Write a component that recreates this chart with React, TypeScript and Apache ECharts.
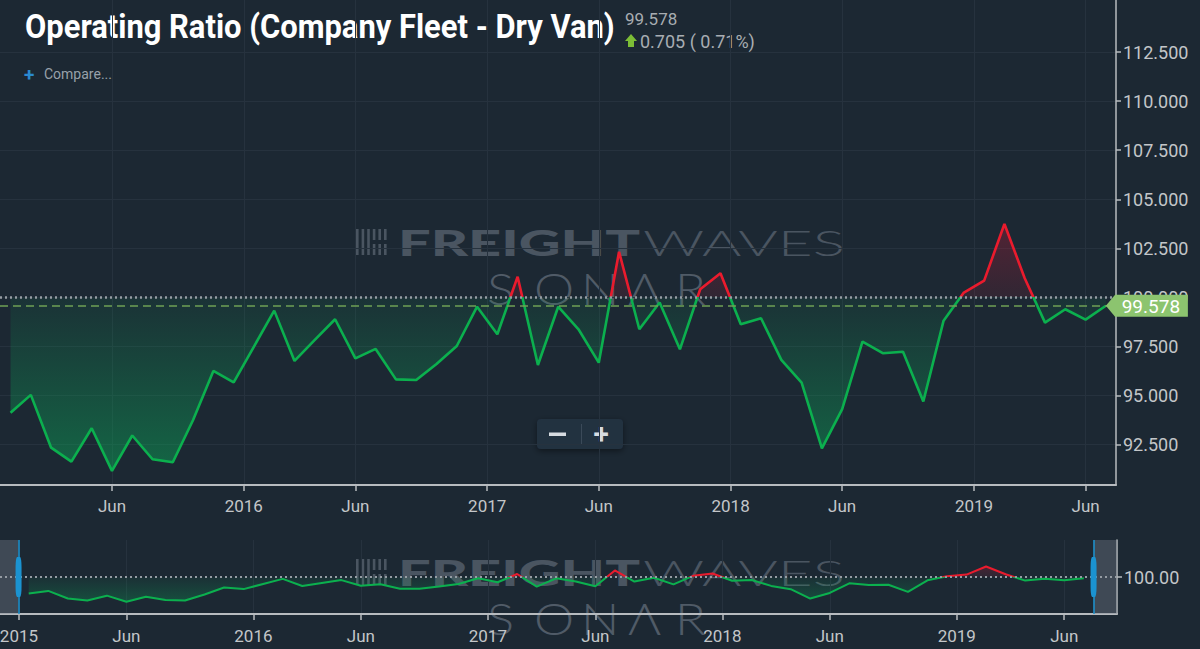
import React, { useEffect, useRef } from 'react'
import * as echarts from 'echarts'

// monthly operating ratio, Jan 2015 .. Jul 2019
const months = [
  '2015-01', '2015-02', '2015-03', '2015-04', '2015-05', '2015-06', '2015-07', '2015-08', '2015-09', '2015-10', '2015-11', '2015-12',
  '2016-01', '2016-02', '2016-03', '2016-04', '2016-05', '2016-06', '2016-07', '2016-08', '2016-09', '2016-10', '2016-11', '2016-12',
  '2017-01', '2017-02', '2017-03', '2017-04', '2017-05', '2017-06', '2017-07', '2017-08', '2017-09', '2017-10', '2017-11', '2017-12',
  '2018-01', '2018-02', '2018-03', '2018-04', '2018-05', '2018-06', '2018-07', '2018-08', '2018-09', '2018-10', '2018-11', '2018-12',
  '2019-01', '2019-02', '2019-03', '2019-04', '2019-05', '2019-06', '2019-07',
]
const ratio = [
  94.13, 95.04, 92.35, 91.64, 93.34, 91.17, 92.97, 91.76, 91.61, 93.76, 96.26, 95.68,
  97.5, 99.33, 96.77, 97.84, 98.89, 96.9, 97.38, 95.83, 95.8, 96.61, 97.53, 99.53,
  98.13, 101.06, 96.56, 99.53, 98.38, 96.68, 102.33, 98.38, 99.74, 97.36, 100.42, 101.23,
  98.64, 98.94, 96.82, 95.66, 92.32, 94.31, 97.75, 97.16, 97.24, 94.7, 98.82, 100.25,
  100.86, 103.74, 100.98, 98.72, 99.4, 98.873, 99.578,
]

// x ticks are in month-index units (points sit mid-month)
const tickPos = [-0.5, 5, 11.5, 17, 23.5, 29, 35.5, 41, 47.5, 53]
const tickText = ['2015', 'Jun', '2016', 'Jun', '2017', 'Jun', '2018', 'Jun', '2019', 'Jun']
const yTicks = [92.5, 95, 97.5, 100, 102.5, 105, 107.5, 110, 112.5]
const navYTicks = [100]
const baseline = 100

const GREEN = '#0bb04e'
const RED = '#ea1b2d'
const AXIS = '#b7bbbf'
const LABEL = '#c3c6c9'
const GRID = '#26323e'
const WM = '#4a5561'

function fitScale(text: string, font: string, width: number) {
  const ctx = document.createElement('canvas').getContext('2d')
  if (!ctx) return 1
  ctx.font = font
  const w = ctx.measureText(text).width
  return w > 0 ? width / w : 1
}

function tickLabel(v: number) {
  const i = tickPos.findIndex((p) => Math.abs(p - v) < 1e-6)
  return i >= 0 ? tickText[i] : ''
}

function watermark(dy: number) {
  const fFont = '900 36px Lato'
  const wFont = '300 36px Lato'
  const sFont = '300 43px Lato'
  const bars = [0, 1, 2, 3, 4, 5].map((k) => ({
    type: 'rect',
    shape: { x: 356 + k * 5.6, y: 229 + dy, width: 2.6, height: k < 3 ? 26 : 11 },
    style: { fill: WM },
  }))
  const bars2 = [3, 4, 5].map((k) => ({
    type: 'rect',
    shape: { x: 356 + k * 5.6, y: 244 + dy, width: 2.6, height: 11 },
    style: { fill: WM },
  }))
  const sonar = ['S', 'O', 'N', 'Λ', 'R'].map((ch, k) => ({
    type: 'text',
    x: 487 + k * 47,
    y: 289 + dy,
    scaleX: 1.18,
    style: { text: ch, font: sFont, fill: '#505b67', verticalAlign: 'middle' },
  }))
  return [
    ...bars,
    ...bars2,
    {
      type: 'text',
      x: 398,
      y: 242 + dy,
      scaleX: fitScale('FREIGHT', fFont, 242),
      style: { text: 'FREIGHT', font: fFont, fill: WM, verticalAlign: 'middle' },
    },
    {
      type: 'text',
      x: 643,
      y: 242 + dy,
      scaleX: fitScale('WAVES', wFont, 202),
      style: { text: 'WAVES', font: wFont, fill: WM, verticalAlign: 'middle' },
    },
    ...sonar,
  ]
}

function App() {
  const chartRef = useRef<HTMLDivElement>(null)

  useEffect(() => {
    const chart = echarts.init(chartRef.current, null, { renderer: 'svg' })

    const points = ratio.map((v, i) => [i, v])
    const lastIdx = ratio.length - 1
    const last = ratio[lastIdx]
    const prev = ratio[lastIdx - 1]
    const change = last - prev
    const maxV = Math.max(...ratio)
    const minV = Math.min(...ratio)
    const o = (maxV - baseline) / (maxV - minV)

    const viewStart = -0.52
    const viewEnd = 54.5
    const navMin = -1.47
    const navMax = 55.7
    const mainTicks = tickPos.filter((p) => p >= 0)

    const mainFill = new echarts.graphic.LinearGradient(0, 0, 0, 1, [
      { offset: 0, color: 'rgba(200,25,55,0.32)' },
      { offset: o, color: 'rgba(200,25,55,0.12)' },
      { offset: o, color: 'rgba(10,170,90,0.08)' },
      { offset: 1, color: 'rgba(10,175,90,0.46)' },
    ])
    const navFill = new echarts.graphic.LinearGradient(0, 0, 0, 1, [
      { offset: 0, color: 'rgba(200,25,55,0.25)' },
      { offset: o, color: 'rgba(200,25,55,0.1)' },
      { offset: o, color: 'rgba(10,170,90,0.06)' },
      { offset: 1, color: 'rgba(10,170,90,0.3)' },
    ])

    const titleFont = 'bold 33px Roboto'
    const titleText = 'Operating Ratio (Company Fleet - Dry Van)'

    const option = {
      animation: false,
      backgroundColor: '#1c2833',
      textStyle: { fontFamily: 'Roboto' },
      grid: [
        { left: 0, right: 84, top: 0, bottom: 164, outerBoundsMode: 'none' },
        { left: 0, right: 83, top: 540, bottom: 35, outerBoundsMode: 'none' },
      ],
      xAxis: [
        {
          type: 'value',
          gridIndex: 0,
          min: viewStart,
          max: viewEnd,
          axisLine: { show: true, onZero: false, lineStyle: { color: AXIS, width: 2 } },
          axisTick: { show: true, customValues: mainTicks, length: 6, lineStyle: { color: AXIS, width: 1.5 } },
          axisLabel: { customValues: mainTicks, formatter: tickLabel, color: LABEL, fontSize: 17, margin: 12 },
          splitLine: { show: true, lineStyle: { color: GRID } },
        },
        {
          type: 'value',
          gridIndex: 1,
          min: navMin,
          max: navMax,
          axisLine: { show: true, onZero: false, lineStyle: { color: AXIS, width: 2 } },
          axisTick: { show: true, customValues: tickPos, length: 6, lineStyle: { color: AXIS, width: 1.5 } },
          axisLabel: { customValues: tickPos, formatter: tickLabel, color: LABEL, fontSize: 17, margin: 13 },
          splitLine: { show: true, lineStyle: { color: GRID } },
        },
      ],
      yAxis: [
        {
          type: 'value',
          gridIndex: 0,
          position: 'right',
          min: 90.45,
          max: 115.15,
          axisLine: { show: true, onZero: false, lineStyle: { color: AXIS, width: 1.5 } },
          axisTick: { show: true, customValues: yTicks, length: 5, lineStyle: { color: AXIS, width: 1.5 } },
          axisLabel: { customValues: yTicks, formatter: (v: number) => v.toFixed(3), color: LABEL, fontSize: 18, margin: 7 },
          splitLine: { show: true, lineStyle: { color: GRID } },
        },
        {
          type: 'value',
          gridIndex: 1,
          position: 'right',
          min: 86.8,
          max: 113.2,
          axisLine: { show: true, onZero: false, lineStyle: { color: AXIS, width: 1.5 } },
          axisTick: { show: true, customValues: navYTicks, length: 5, lineStyle: { color: AXIS, width: 1.5 } },
          axisLabel: { customValues: navYTicks, formatter: (v: number) => v.toFixed(2), color: LABEL, fontSize: 18, margin: 7 },
          splitLine: { show: false },
        },
      ],
      visualMap: {
        show: false,
        type: 'piecewise',
        seriesIndex: [0, 1],
        dimension: 1,
        pieces: [
          { gte: 0, lte: baseline, color: GREEN },
          { gt: baseline, lte: 1000, color: RED },
        ],
        outOfRange: { color: GREEN },
      },
      series: [
        {
          type: 'line',
          xAxisIndex: 0,
          yAxisIndex: 0,
          data: points,
          showSymbol: false,
          lineStyle: { width: 2.6 },
          areaStyle: { origin: baseline, color: mainFill, opacity: 1 },
          z: 3,
          markLine: {
            silent: true,
            symbol: 'none',
            label: { show: false },
            data: [
              { yAxis: baseline, lineStyle: { type: [2, 3], color: '#959ca3', width: 2.5 } },
              { yAxis: last, lineStyle: { type: [8, 5], color: '#6fa055', width: 1.5 } },
            ],
          },
          markPoint: {
            silent: true,
            z: 10,
            symbol: 'path://M0,10.5L9,0H80V21H9Z',
            symbolSize: [82, 22],
            symbolOffset: [41, 0],
            itemStyle: { color: '#8cc46f' },
            label: { show: true, formatter: last.toFixed(3), color: '#ffffff', fontSize: 19, offset: [4, 1] },
            data: [{ coord: [lastIdx, last] }],
          },
        },
        {
          type: 'line',
          xAxisIndex: 1,
          yAxisIndex: 1,
          data: points,
          showSymbol: false,
          lineStyle: { width: 2 },
          areaStyle: { origin: baseline, color: navFill, opacity: 1 },
          z: 3,
          markArea: {
            silent: true,
            itemStyle: { color: 'rgba(120,130,142,0.38)' },
            data: [
              [{ xAxis: navMin }, { xAxis: viewStart }],
              [{ xAxis: viewEnd }, { xAxis: navMax }],
            ],
          },
          markLine: {
            silent: true,
            symbol: 'none',
            label: { show: false },
            data: [
              { yAxis: baseline, lineStyle: { type: [2, 3], color: '#959ca3', width: 2 } },
              { xAxis: viewStart, lineStyle: { type: 'solid', color: '#1b93d1', width: 1.5 } },
              { xAxis: viewEnd, lineStyle: { type: 'solid', color: '#1b93d1', width: 1.5 } },
            ],
          },
          markPoint: {
            silent: true,
            z: 10,
            symbol: 'roundRect',
            symbolSize: [6, 40],
            itemStyle: { color: '#1b93d1' },
            label: { show: false },
            data: [{ coord: [viewStart, baseline] }, { coord: [viewEnd, baseline] }],
          },
        },
      ],
      graphic: [
        ...watermark(0),
        ...watermark(330),
        {
          type: 'text',
          x: 25,
          y: 27,
          scaleX: fitScale(titleText, titleFont, 590),
          style: { text: titleText, font: titleFont, fill: '#ffffff', verticalAlign: 'middle' },
        },
        {
          type: 'text',
          x: 625,
          y: 19,
          style: { text: last.toFixed(3), font: '17px Roboto', fill: '#a8adb2', verticalAlign: 'middle' },
        },
        {
          type: 'polygon',
          shape: { points: [[631, 34], [637, 41], [634, 41], [634, 47], [628, 47], [628, 41], [625, 41]] },
          style: { fill: '#7cbd36' },
        },
        {
          type: 'text',
          x: 640,
          y: 41,
          style: {
            text: `${change.toFixed(3)} ( ${((change / prev) * 100).toFixed(2)}%)`,
            font: '18px Roboto',
            fill: '#a8adb2',
            verticalAlign: 'middle',
          },
        },
        {
          type: 'text',
          x: 24,
          y: 74,
          style: { text: '+', font: 'bold 19px Roboto', fill: '#2a8ad0', verticalAlign: 'middle' },
        },
        {
          type: 'text',
          x: 44,
          y: 74,
          style: { text: 'Compare...', font: '14px Roboto', fill: '#98a1aa', verticalAlign: 'middle' },
        },
        {
          type: 'rect',
          shape: { x: 537, y: 419, width: 86, height: 30, r: 4 },
          style: { fill: '#233241', shadowBlur: 6, shadowColor: 'rgba(0,0,0,0.45)', shadowOffsetY: 2 },
        },
        {
          type: 'line',
          shape: { x1: 581.5, y1: 424, x2: 581.5, y2: 444 },
          style: { stroke: '#3b4a59', lineWidth: 1 },
        },
        {
          type: 'rect',
          shape: { x: 549, y: 432.5, width: 17, height: 3.5 },
          style: { fill: '#d6dbe0' },
        },
        {
          type: 'text',
          x: 601,
          y: 434,
          style: { text: '+', font: 'bold 28px Roboto', fill: '#d6dbe0', align: 'center', verticalAlign: 'middle' },
        },
      ],
    }

    chart.setOption(option as any)

    return () => {
      chart.dispose()
    }
  }, [])

  return (
    <div
      ref={chartRef}
      data-months={months.length}
      style={{ position: 'absolute', left: 0, top: 0, width: 1200, height: 649 }}
    ></div>
  )
}

export default App
